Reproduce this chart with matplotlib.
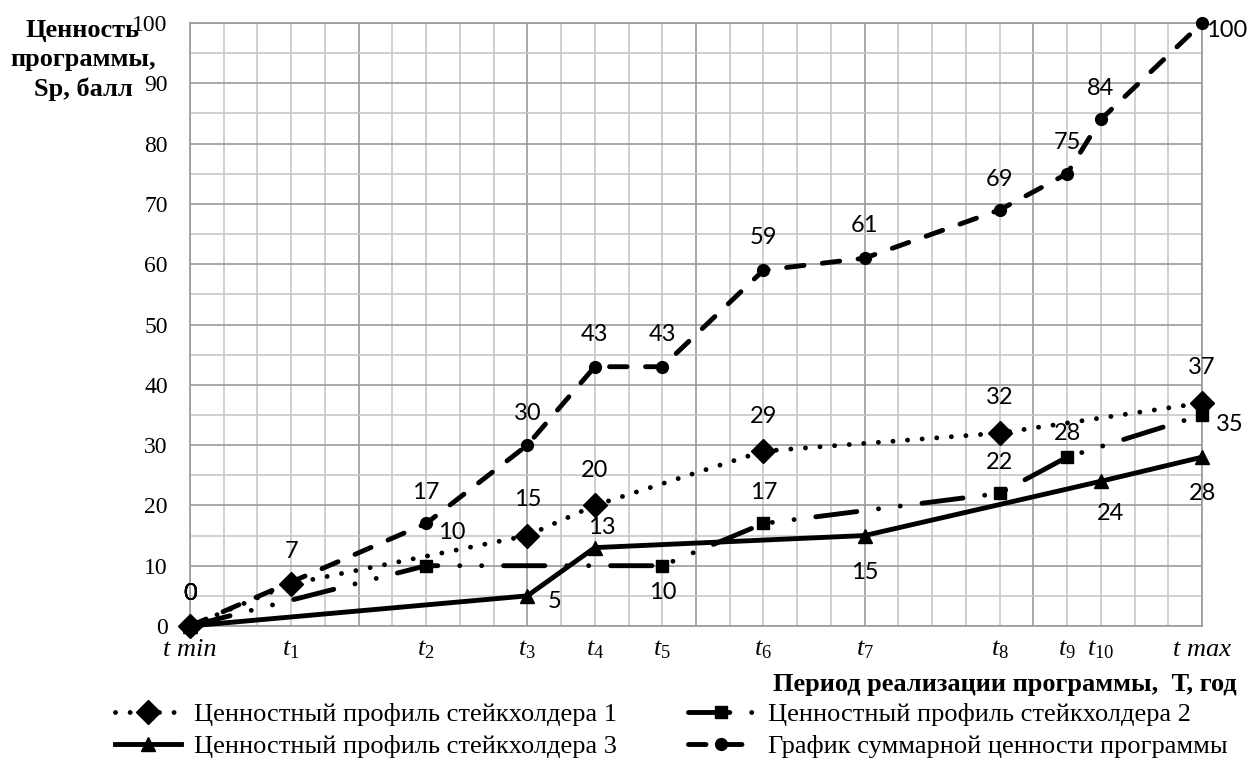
import matplotlib
matplotlib.use("Agg")
import matplotlib.pyplot as plt

plt.rcParams["mathtext.fontset"] = "custom"
plt.rcParams["mathtext.it"] = "Liberation Serif:italic"
plt.rcParams["mathtext.rm"] = "Liberation Serif"

# period ticks (position on a 0..30 grid) and their labels
t_pos = [0, 3, 7, 10, 12, 14, 17, 20, 24, 26, 27, 30]
t_labels = ["t min", r"$\mathit{t_{1}}$", r"$\mathit{t_{2}}$", r"$\mathit{t_{3}}$",
            r"$\mathit{t_{4}}$", r"$\mathit{t_{5}}$", r"$\mathit{t_{6}}$", r"$\mathit{t_{7}}$",
            r"$\mathit{t_{8}}$", r"$\mathit{t_{9}}$", r"$\mathit{t_{10}}$", "t max"]

# stakeholder 1
s1_x = [0, 3, 10, 12, 17, 24, 30]
s1_y = [0, 7, 15, 20, 29, 32, 37]
# stakeholder 2
s2_x = [0, 7, 14, 17, 24, 26, 30]
s2_y = [0, 10, 10, 17, 22, 28, 35]
# stakeholder 3
s3_x = [0, 10, 12, 20, 27, 30]
s3_y = [0, 5, 13, 15, 24, 28]
# total value
s4_x = [0, 7, 10, 12, 14, 17, 20, 24, 26, 27, 30]
s4_y = [0, 17, 30, 43, 43, 59, 61, 69, 75, 84, 100]

labels = ["Ценностный профиль стейкхолдера 1",
          "Ценностный профиль стейкхолдера 2",
          "Ценностный профиль стейкхолдера 3",
          "График суммарной ценности программы"]

SERIF = "Liberation Serif"
NUMF = "Lato"

fig = plt.figure(figsize=(12.56, 7.83), dpi=100)
ax = fig.add_axes([190 / 1256, 1 - 626 / 783, 1012 / 1256, 603 / 783])

# grid paper
for i in range(31):
    ax.axvline(i, color="#9a9a9a" if i % 5 == 0 else "#c8c8c8", lw=1.2, zorder=0)
for v in range(0, 101, 5):
    ax.axhline(v, color="#9a9a9a" if v % 10 == 0 else "#c8c8c8", lw=1.2, zorder=0)

lw = 3.5
l1, = ax.plot(s1_x, s1_y, color="black", lw=lw, dashes=(0.01, 3.0), dash_capstyle="round",
              marker="D", ms=12, clip_on=False, zorder=3)
l2, = ax.plot(s2_x, s2_y, color="black", lw=lw, dashes=(8.5, 4.5, 0.01, 4.5, 0.01, 4.5),
              dash_capstyle="round", marker="s", ms=9, clip_on=False, zorder=3)
l3, = ax.plot(s3_x, s3_y, color="black", lw=lw, marker="^", ms=10.5, clip_on=False, zorder=3)
l4, = ax.plot(s4_x, s4_y, color="black", lw=lw, dashes=(3.6, 3.8), dash_capstyle="round",
              marker="o", ms=8.5, clip_on=False, zorder=3)

# value labels, offsets in pixels from the point
def put(xs, ys, offs):
    for x, y, (dx, dy) in zip(xs, ys, offs):
        ax.annotate(str(y), (x, y), xytext=(dx, dy), textcoords="offset pixels",
                    ha="center", va="center", fontsize=17, family=NUMF, zorder=5,
                    annotation_clip=False)

put(s1_x, s1_y, [(0, 33), (0, 32), (0, 36), (0, 35), (0, 35), (0, 36), (0, 35)])
put(s2_x, s2_y, [(0, 33), (26, 33), (0, -27), (0, 31), (0, 31), (0, 24), (28, -10)])
put(s3_x, s3_y, [(0, 33), (27, -6), (7, 20), (0, -37), (10, -32), (0, -36)])
put(s4_x, s4_y, [(0, 33), (0, 31), (0, 32), (0, 32), (0, 32), (0, 33), (0, 33),
                 (0, 30), (0, 31), (0, 31), (25, -7)])

ax.set_xlim(0, 30)
ax.set_ylim(0, 100)
ax.set_xticks(t_pos)
ax.set_xticklabels(t_labels, family=SERIF, style="italic", fontsize=19)
ax.set_yticks(range(0, 101, 10))
ax.set_yticklabels([str(v) for v in range(0, 101, 10)], family=SERIF, fontsize=17)
ax.tick_params(axis="both", length=0)
ax.tick_params(axis="y", pad=16)
ax.tick_params(axis="x", pad=9)
for sp in ax.spines.values():
    sp.set_color("#9a9a9a")
    sp.set_linewidth(1.2)

fig.text(83 / 1256, 1 - 60 / 783, "Ценность\nпрограммы,\nSp, балл", ha="center", va="center",
         family=SERIF, fontweight="bold", fontsize=19, linespacing=1.35)
fig.text(1237 / 1256, 1 - 684 / 783, "Период реализации программы,  Т, год", ha="right",
         va="center", family=SERIF, fontweight="bold", fontsize=19)

leg = fig.legend([l1, l3, l2, l4], [labels[0], labels[2], labels[1], labels[3]], ncol=2,
                 loc="upper left", bbox_to_anchor=(115 / 1256, 1 - 703 / 783),
                 frameon=False, prop={"family": SERIF, "size": 19}, handlelength=2.5,
                 handletextpad=0.5, columnspacing=2.7, labelspacing=0.3, numpoints=1,
                 borderaxespad=0, borderpad=0)

fig.savefig("out.png", dpi=100)
